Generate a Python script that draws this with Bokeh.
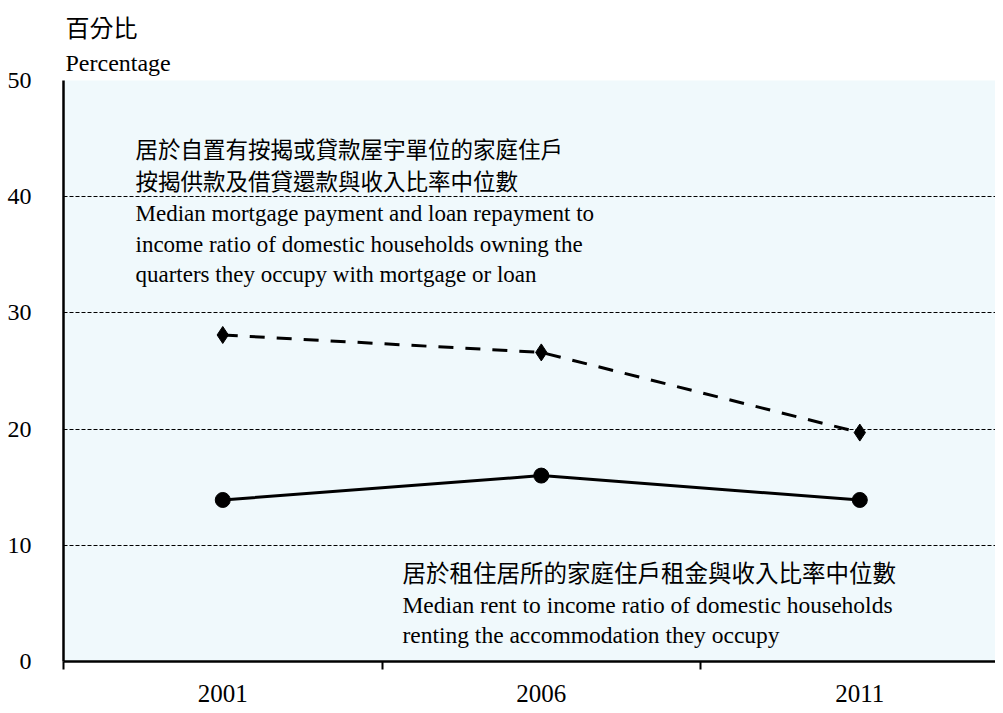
from bokeh.plotting import figure
from bokeh.models import Range1d, FixedTicker, Title
from bokeh.core.properties import value
from bokeh.embed import file_html
from bokeh.resources import INLINE

years = ["2001", "2006", "2011"]
mortgage = [28.1, 26.6, 19.7]
rent = [13.9, 16.0, 13.9]
y_ticks = [0, 10, 20, 30, 40, 50]

y_title_zh = "百分比"
y_title_en = "Percentage"
mortgage_zh = ["居於自置有按揭或貸款屋宇單位的家庭住戶", "按揭供款及借貸還款與收入比率中位數"]
mortgage_en = ["Median mortgage payment and loan repayment to",
               "income ratio of domestic households owning the",
               "quarters they occupy with mortgage or loan"]
rent_zh = ["居於租住居所的家庭住戶租金與收入比率中位數"]
rent_en = ["Median rent to income ratio of domestic households",
           "renting the accommodation they occupy"]

SERIF = "Liberation Serif"
CJK = "Noto Sans CJK TC"

xs = [i + 0.5 for i in range(len(years))]

p = figure(width=995, height=705, output_backend="svg", toolbar_location=None,
           x_range=Range1d(0, 2.926), y_range=Range1d(0, 50),
           min_border_left=63, min_border_right=0, min_border_top=80, min_border_bottom=44)
p.background_fill_color = "#F0F9FC"
p.border_fill_color = "white"
p.outline_line_color = None

# axes
p.xaxis.ticker = FixedTicker(ticks=xs, minor_ticks=[0, 1, 2])
p.xaxis.major_label_overrides = {x: y for x, y in zip(xs, years)}
p.xaxis.major_tick_line_color = None
p.xaxis.minor_tick_out = 8
p.xaxis.minor_tick_in = 0
p.xaxis.minor_tick_line_width = 2
p.xaxis.minor_tick_line_color = "black"
p.xaxis.axis_line_width = 2.5
p.xaxis.axis_line_color = "black"
p.xaxis.major_label_standoff = 15
p.xaxis.major_label_text_font = SERIF
p.xaxis.major_label_text_font_size = "25px"
p.xaxis.major_label_text_color = "black"

p.yaxis.ticker = FixedTicker(ticks=y_ticks)
p.yaxis.major_tick_line_color = None
p.yaxis.minor_tick_line_color = None
p.yaxis.axis_line_width = 2.5
p.yaxis.axis_line_color = "black"
p.yaxis.major_label_standoff = 26
p.yaxis.major_label_text_font = SERIF
p.yaxis.major_label_text_font_size = "24px"
p.yaxis.major_label_text_color = "black"

p.xgrid.grid_line_color = None
p.ygrid.ticker = FixedTicker(ticks=y_ticks[1:])
p.ygrid.grid_line_color = "black"
p.ygrid.grid_line_dash = "4 2"
p.ygrid.grid_line_width = 1.2

# axis titles above the frame
p.add_layout(Title(text=y_title_en, align="left", text_font=SERIF, text_font_size="24px",
                   text_font_style="normal", text_color="black", offset=2, standoff=9), "above")
p.add_layout(Title(text=y_title_zh, align="left", text_font=CJK, text_font_size="24px",
                   text_font_style="normal", text_color="black", offset=2, standoff=0), "above")

# series
p.line(xs, mortgage, line_color="black", line_width=3, line_dash="15 12")
p.scatter(xs, mortgage, marker="diamond", size=17, fill_color="black", line_color="black")
p.line(xs, rent, line_color="black", line_width=3)
p.scatter(xs, rent, marker="circle", size=15, fill_color="black", line_color="black")

# annotations
def block(x, ys, lines, font, size):
    p.text([x] * len(lines), ys, text=lines, text_font=value(font), text_font_size=size,
           text_color="black", text_baseline="middle", text_align="left")

block(0.226, [44.2, 41.4], mortgage_zh, CJK, "22.5px")
block(0.226, [38.55, 35.9, 33.3], mortgage_en, SERIF, "23px")
block(1.064, [7.66], rent_zh, CJK, "23.5px")
block(1.064, [4.82, 2.24], rent_en, SERIF, "23.5px")

open("out.html", "w").write(file_html(p, INLINE))
